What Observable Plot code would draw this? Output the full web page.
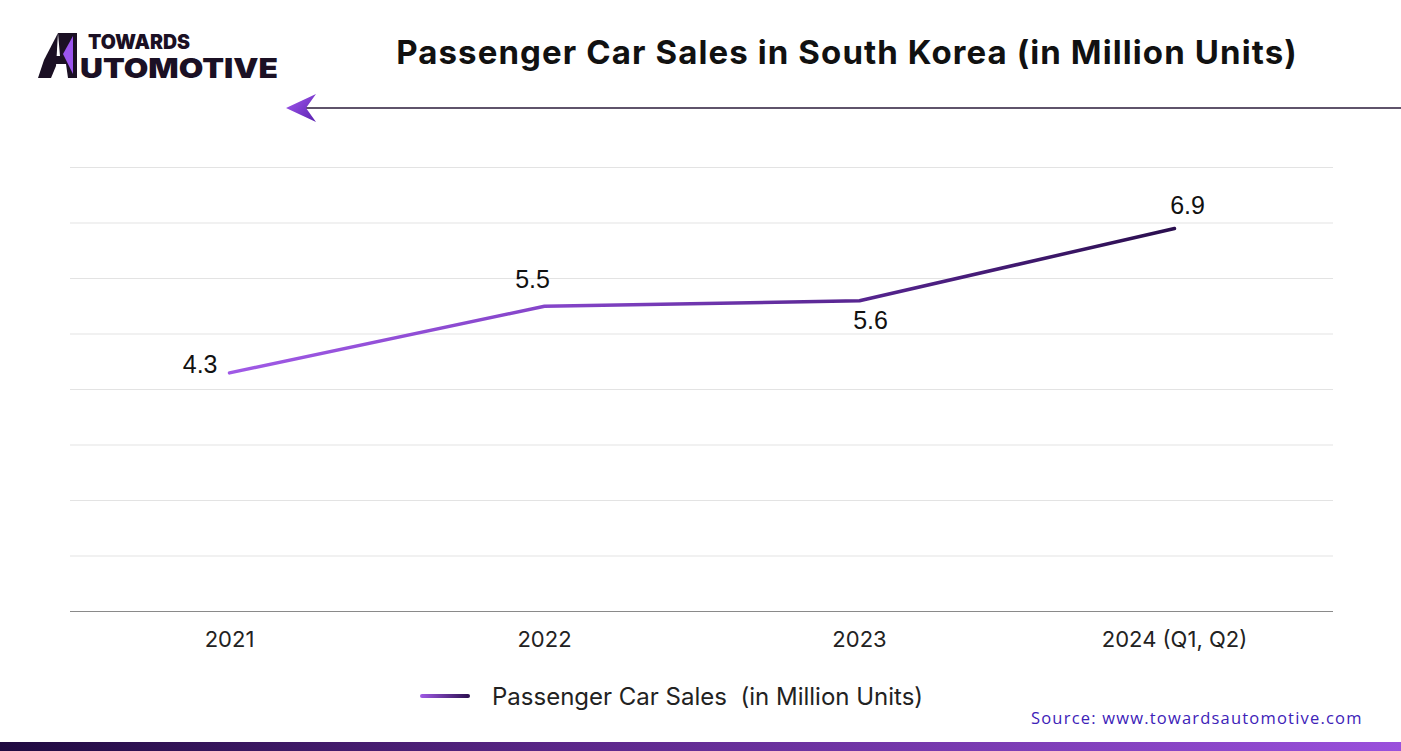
<!DOCTYPE html>
<html>
<head>
<meta charset="utf-8">
<script src="https://cdn.jsdelivr.net/npm/d3@7"></script>
<script src="https://cdn.jsdelivr.net/npm/@observablehq/plot@0.6"></script>
<style>
  html, body { margin: 0; padding: 0; background: #fff; }
  #page { position: relative; width: 1401px; height: 751px; overflow: hidden; background: #fff; font-family: Inter, "Noto Sans", sans-serif; }
  #title { position: absolute; left: 0; width: 1694px; top: 32px; text-align: center; font-family: Inter, sans-serif; font-weight: 700; font-size: 33px; letter-spacing: 1.1px; color: #111; white-space: nowrap; line-height: 40px; }
  #chart { position: absolute; left: 0; top: 140px; }
  #legend { position: absolute; left: 420px; top: 678px; height: 36px; display: flex; align-items: center; }
  #legend .sw { width: 50px; height: 4px; border-radius: 2px; background: linear-gradient(to right, #a05ae6, #2a0e4e); margin-right: 22px; }
  #legend .lt { font-family: Inter, sans-serif; font-size: 24px; color: #222; white-space: pre; }
  #source { position: absolute; left: 1031px; top: 706px; font-family: "Open Sans", sans-serif; font-size: 16.5px; color: #3d22b8; letter-spacing: 1.2px; white-space: nowrap; }
  #bar { position: absolute; left: 0; top: 742px; width: 1401px; height: 9px; background: linear-gradient(to right, #1f0a40, #5a2688 40%, #9a50dc); }
  #deco { position: absolute; left: 0; top: 0; }
</style>
</head>
<body>
<div id="page">
  <svg id="deco" width="1401" height="140">
    <defs>
      <linearGradient id="arrowGrad" x1="0" y1="0" x2="1" y2="1">
        <stop offset="0" stop-color="#a45af0"/>
        <stop offset="1" stop-color="#5a22b0"/>
      </linearGradient>
    </defs>
    <!-- logo mark -->
    <polygon points="58,33 77,33 77,78 68,78 66,64 44,64 48,56 60,56" fill="#1b1024"/>
    <polygon points="58,33 44,60 38,78 51,78 56,66" fill="#1b1024"/>
    <polygon points="73,36 63,54 73,74" fill="#9b55ee"/>
    <text x="88" y="49" font-family="Inter, sans-serif" font-weight="900" font-size="20" fill="#1b1024" textLength="102" lengthAdjust="spacingAndGlyphs">TOWARDS</text>
    <text x="80" y="78" font-family="Inter, sans-serif" font-weight="900" font-size="27" fill="#1b1024" textLength="198" lengthAdjust="spacingAndGlyphs">UTOMOTIVE</text>
    <!-- arrow -->
    <line x1="306" y1="108" x2="1401" y2="108" stroke="#2a1a3a" stroke-width="1.6"/>
    <polygon points="286,108 316,94 306,108 316,122" fill="url(#arrowGrad)"/>
  </svg>
  <div id="title">Passenger Car Sales in South Korea (in Million Units)</div>
  <div id="chart"></div>
  <div id="legend"><div class="sw"></div><div class="lt">Passenger Car Sales  (in Million Units)</div></div>
  <div id="source">Source: www.towardsautomotive.com</div>
  <div id="bar"></div>
</div>
<script>
const years = ["2021", "2022", "2023", "2024 (Q1, Q2)"];
const sales = [4.3, 5.5, 5.6, 6.9];
const gridValues = [1, 2, 3, 4, 5, 6, 7, 8];

const data = years.map((year, i) => ({year, value: sales[i]}));
const fmt = d => d.value.toFixed(1);

const labelStyle = {fontSize: 25, fill: "#111", fontFamily: "'Liberation Sans', Arial, sans-serif"};

const plot = Plot.plot({
  width: 1401,
  height: 530,
  marginLeft: 70,
  marginRight: 68,
  marginTop: 27,
  marginBottom: 59,
  style: {background: "transparent", overflow: "visible"},
  x: {type: "point", domain: years, padding: 0.5, label: null},
  y: {domain: [0, 8], axis: null},
  marks: [
    Plot.ruleY(gridValues, {stroke: "#e3e3e3", strokeWidth: 1}),
    Plot.ruleY([0], {stroke: "#8a8a8a", strokeWidth: 1.2}),
    Plot.axisX({tickSize: 0, tickPadding: 20, fontSize: 22, fontFamily: "Inter, sans-serif", color: "#222", label: null}),
    Plot.line(data, {x: "year", y: "value", stroke: "url(#lineGrad)", strokeWidth: 3.5, strokeLinecap: "round", strokeLinejoin: "round"}),
    Plot.text(data.filter((d, i) => i === 0), {x: "year", y: "value", text: fmt, textAnchor: "end", dx: -12, dy: -8, ...labelStyle}),
    Plot.text(data.filter((d, i) => i === 1), {x: "year", y: "value", text: fmt, dx: -12, dy: -26, ...labelStyle}),
    Plot.text(data.filter((d, i) => i === 2), {x: "year", y: "value", text: fmt, dx: 11, dy: 20, ...labelStyle}),
    Plot.text(data.filter((d, i) => i === 3), {x: "year", y: "value", text: fmt, dx: 13, dy: -23, ...labelStyle})
  ]
});

const ns = "http://www.w3.org/2000/svg";
const defs = document.createElementNS(ns, "defs");
defs.innerHTML = '<linearGradient id="lineGrad" x1="0" y1="0" x2="1" y2="0">' +
  '<stop offset="0" stop-color="#a05ae6"/>' +
  '<stop offset="0.35" stop-color="#8444c8"/>' +
  '<stop offset="0.7" stop-color="#52228a"/>' +
  '<stop offset="1" stop-color="#2a0e4e"/></linearGradient>';
plot.insertBefore(defs, plot.firstChild);
document.getElementById("chart").appendChild(plot);
</script>
</body>
</html>
